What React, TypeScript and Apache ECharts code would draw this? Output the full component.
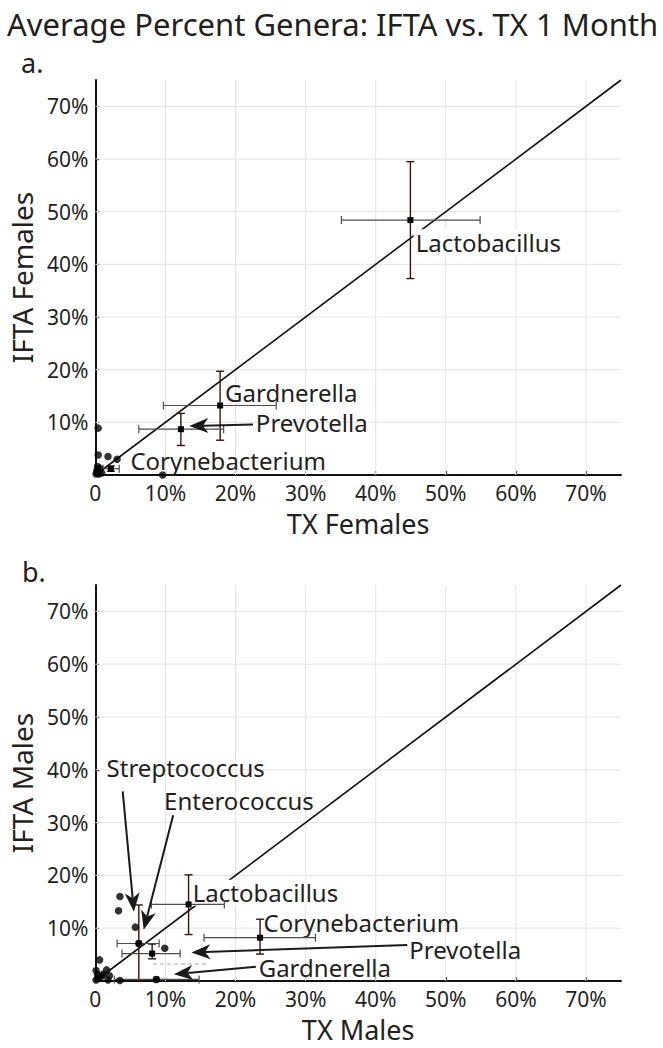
import React, { useEffect, useRef } from 'react';
import * as echarts from 'echarts';

const FONT = '"Noto Sans", "DejaVu Sans", sans-serif';
const AXIS_MAX = 75;
const TICK_STEP = 10;
const GRID_TICKS = [10, 20, 30, 40, 50, 60, 70];
const DIAGONAL = [[0, 0], [75, 75]];

// ---------- Panel a: females ----------
const FEMALE_DOTS = [
  [0.4, 8.9], [0.4, 3.8], [1.8, 3.5], [3.1, 3.0], [9.6, 0.0],
  [0.1, 0.2], [0.3, 0.5], [0.5, 0.2], [0.2, 0.8], [0.6, 1.3], [0.9, 0.4], [0.3, 1.6],
];
const FEMALE_GENERA = ['Lactobacillus', 'Gardnerella', 'Prevotella', 'Corynebacterium'];
const FEMALE_MEAN_X = [44.95, 17.8, 12.2, 2.2];
const FEMALE_MEAN_Y = [48.4, 13.2, 8.7, 1.2];
const FEMALE_X_LOW = [35.1, 9.7, 6.2, 1.1];
const FEMALE_X_HIGH = [54.9, 25.8, 18.3, 3.4];
const FEMALE_Y_LOW = [37.3, 6.6, 5.6, 0.7];
const FEMALE_Y_HIGH = [59.5, 19.7, 11.7, 1.7];
// label anchors (data coords, left-middle of text)
const FEMALE_LABEL_TEXT = ['Lactobacillus', 'Gardnerella', 'Prevotella', 'Corynebacterium'];
const FEMALE_LABEL_X = [45.7, 18.5, 22.9, 5.0];
const FEMALE_LABEL_Y = [44.2, 15.6, 9.9, 2.7];
const FEMALE_LABEL_BG = [true, false, false, false];
// arrows: from -> tip (data coords)
const FEMALE_ARROWS = [[22.5, 9.6, 13.4, 9.3]];

// ---------- Panel b: males ----------
const MALE_DOTS = [
  [3.5, 16.0], [3.3, 13.3], [5.7, 10.2], [9.9, 6.2], [0.6, 4.0], [3.5, 0.1], [8.7, 0.3], [6.2, 7.1],
  [0.1, 2.0], [0.4, 0.5], [0.9, 0.9], [1.6, 2.1], [1.1, 1.3], [1.8, 0.2], [0.1, 0.2], [2.0, 1.0], [0.3, 1.2],
];
const MALE_GENERA = ['Lactobacillus', 'Corynebacterium', 'Prevotella', 'Streptococcus', 'Gardnerella'];
const MALE_MEAN_X = [13.3, 23.5, 8.1, 6.2, 8.7];
const MALE_MEAN_Y = [14.5, 8.2, 5.2, 7.1, 0.3];
const MALE_X_LOW = [8.0, 15.5, 3.8, 3.1, 2.7];
const MALE_X_HIGH = [18.4, 31.4, 12.1, 9.1, 14.8];
const MALE_Y_LOW = [8.8, 5.1, 4.2, 0.0, 0.3];
const MALE_Y_HIGH = [20.1, 11.7, 7.0, 14.4, 0.3];
const MALE_FAINT_BARS = [[12.2, 3.2, 8.2, 16.2]];
const MALE_LABEL_TEXT = ['Streptococcus', 'Enterococcus', 'Lactobacillus', 'Corynebacterium', 'Prevotella', 'Gardnerella'];
const MALE_LABEL_X = [1.6, 9.8, 13.9, 24.0, 44.8, 23.3];
const MALE_LABEL_Y = [40.4, 34.1, 16.7, 11.0, 5.9, 2.5];
const MALE_LABEL_BG = [false, false, true, false, false, false];
const MALE_ARROWS = [
  [3.9, 35.9, 5.5, 13.1],
  [11.1, 31.4, 6.9, 9.7],
  [44.5, 6.8, 13.7, 5.4],
  [22.9, 2.7, 11.2, 1.3],
];

const H_BAR = '#4d4d4d';
const V_BAR = '#3a1212';
const INK = '#111';
const TEXT = '#231f20';

function errorBarItem(_p: any, api: any) {
  const x = api.value(0), y = api.value(1);
  const xl = api.value(2), xh = api.value(3), yl = api.value(4), yh = api.value(5);
  const c = api.coord([x, y]);
  const pl = api.coord([xl, y]);
  const ph = api.coord([xh, y]);
  const pb = api.coord([x, yl]);
  const pt = api.coord([x, yh]);
  const cap = 4;
  const children: any[] = [];
  if (xh > xl) {
    children.push(
      { type: 'line', shape: { x1: pl[0], y1: c[1], x2: ph[0], y2: c[1] }, style: { stroke: H_BAR, lineWidth: 1.2 } },
      { type: 'line', shape: { x1: pl[0], y1: c[1] - cap, x2: pl[0], y2: c[1] + cap }, style: { stroke: H_BAR, lineWidth: 1.2 } },
      { type: 'line', shape: { x1: ph[0], y1: c[1] - cap, x2: ph[0], y2: c[1] + cap }, style: { stroke: H_BAR, lineWidth: 1.2 } },
    );
  }
  if (yh > yl) {
    children.push(
      { type: 'line', shape: { x1: c[0], y1: pb[1], x2: c[0], y2: pt[1] }, style: { stroke: V_BAR, lineWidth: 1.4 } },
      { type: 'line', shape: { x1: c[0] - cap, y1: pt[1], x2: c[0] + cap, y2: pt[1] }, style: { stroke: V_BAR, lineWidth: 1.4 } },
      { type: 'line', shape: { x1: c[0] - cap, y1: pb[1], x2: c[0] + cap, y2: pb[1] }, style: { stroke: V_BAR, lineWidth: 1.4 } },
    );
  }
  children.push({ type: 'rect', shape: { x: c[0] - 3, y: c[1] - 3, width: 6, height: 6 }, style: { fill: '#000' } });
  return { type: 'group', children };
}

function faintBarItem(_p: any, api: any) {
  const y = api.value(1);
  const pl = api.coord([api.value(2), y]);
  const ph = api.coord([api.value(3), y]);
  return {
    type: 'line',
    shape: { x1: pl[0], y1: pl[1], x2: ph[0], y2: ph[1] },
    style: { stroke: '#b8b8b8', lineWidth: 1.2, lineDash: [4, 3] },
  };
}

function gridItem(_p: any, api: any) {
  const v = api.value(0);
  const a = api.coord([v, 0]);
  const b = api.coord([v, AXIS_MAX]);
  const c = api.coord([0, v]);
  const d = api.coord([AXIS_MAX, v]);
  const st = { stroke: '#e6e2e2', lineWidth: 1 };
  return {
    type: 'group',
    children: [
      { type: 'line', shape: { x1: a[0], y1: a[1], x2: b[0], y2: b[1] }, style: st },
      { type: 'line', shape: { x1: c[0], y1: c[1], x2: d[0], y2: d[1] }, style: st },
    ],
  };
}

function arrowItem(_p: any, api: any) {
  const p1 = api.coord([api.value(0), api.value(1)]);
  const p2 = api.coord([api.value(2), api.value(3)]);
  const dx = p2[0] - p1[0], dy = p2[1] - p1[1];
  const len = Math.sqrt(dx * dx + dy * dy) || 1;
  const ux = dx / len, uy = dy / len;
  const nx = -uy, ny = ux;
  const L = 19, W = 7.5;
  const bx = p2[0] - ux * L, by = p2[1] - uy * L;
  const kx = p2[0] - ux * L * 0.72, ky = p2[1] - uy * L * 0.72;
  return {
    type: 'group',
    children: [
      { type: 'line', shape: { x1: p1[0], y1: p1[1], x2: kx, y2: ky }, style: { stroke: '#1a1a1a', lineWidth: 2 } },
      {
        type: 'polygon',
        shape: { points: [[p2[0], p2[1]], [bx + nx * W, by + ny * W], [kx, ky], [bx - nx * W, by - ny * W]] },
        style: { fill: '#1a1a1a' },
      },
    ],
  };
}

function makeLabelItem(texts: string[], bgs: boolean[]) {
  return (_p: any, api: any) => {
    const idx = api.value(2);
    const p = api.coord([api.value(0), api.value(1)]);
    const bg = bgs[idx];
    return {
      type: 'text',
      x: bg ? p[0] - 2 : p[0],
      y: p[1],
      style: {
        text: texts[idx],
        fill: TEXT,
        fontSize: 24,
        lineHeight: 24,
        fontFamily: FONT,
        align: 'left',
        verticalAlign: 'middle',
        backgroundColor: bg ? '#fff' : 'transparent',
        padding: bg ? [2, 1, 0, 2] : 0,
      },
    };
  };
}

function xAxis(gridIndex: number, name: string) {
  return {
    type: 'value', gridIndex, min: 0, max: AXIS_MAX, interval: TICK_STEP,
    name, nameLocation: 'middle', nameGap: 35,
    nameTextStyle: { fontSize: 27, color: TEXT, fontFamily: FONT },
    axisLine: { show: true, onZero: false, lineStyle: { color: INK, width: 2 } },
    axisTick: { show: true, inside: true, length: 4, lineStyle: { color: INK, width: 1.2 } },
    axisLabel: {
      fontSize: 21, color: TEXT, fontFamily: FONT, margin: 7, showMaxLabel: false,
      formatter: (v: number) => (v === 0 ? '0' : v > 70 ? '' : v + '%'),
    },
    splitLine: { show: false },
  };
}

function yAxis(gridIndex: number, name: string) {
  return {
    type: 'value', gridIndex, min: 0, max: AXIS_MAX, interval: TICK_STEP,
    name, nameLocation: 'middle', nameGap: 50,
    nameTextStyle: { fontSize: 28, color: TEXT, fontFamily: FONT },
    axisLine: { show: true, onZero: false, lineStyle: { color: INK, width: 2 } },
    axisTick: { show: true, inside: true, length: 4, lineStyle: { color: INK, width: 1.2 } },
    axisLabel: {
      fontSize: 21, color: TEXT, fontFamily: FONT, margin: 7, showMaxLabel: false,
      formatter: (v: number) => (v === 0 || v > 70 ? '' : v + '%'),
    },
    splitLine: { show: false },
  };
}

function panelSeries(
  idx: number,
  dots: number[][],
  mx: number[], my: number[], xl: number[], xh: number[], yl: number[], yh: number[],
  labelText: string[], labelX: number[], labelY: number[], labelBg: boolean[],
  arrows: number[][],
  faint: number[][],
) {
  const base = { xAxisIndex: idx, yAxisIndex: idx, silent: true };
  return [
    { ...base, type: 'custom', z: 1, renderItem: gridItem, data: GRID_TICKS.map((v) => [v]), clip: false },
    {
      ...base, type: 'line', z: 2, data: DIAGONAL, showSymbol: false, symbol: 'none',
      lineStyle: { color: INK, width: 1.6 },
    },
    {
      ...base, type: 'custom', z: 3, renderItem: makeLabelItem(labelText, labelBg), clip: false,
      data: labelText.map((_t, i) => [labelX[i], labelY[i], i]),
    },
    { ...base, type: 'custom', z: 4, renderItem: faintBarItem, clip: false, data: faint },
    {
      ...base, type: 'custom', z: 4, renderItem: errorBarItem, clip: false,
      data: mx.map((x, i) => [x, my[i], xl[i], xh[i], yl[i], yh[i]]),
    },
    { ...base, type: 'custom', z: 5, renderItem: arrowItem, clip: false, data: arrows },
    {
      ...base, type: 'scatter', z: 6, data: dots, symbol: 'circle', symbolSize: 7.5,
      itemStyle: { color: '#000' },
    },
  ];
}

export default function App() {
  const ref = useRef<HTMLDivElement>(null);
  useEffect(() => {
    if (!ref.current) return;
    const chart = echarts.init(ref.current, undefined, { renderer: 'svg' });
    chart.setOption({
      animation: false,
      backgroundColor: '#fff',
      textStyle: { fontFamily: FONT },
      title: [
        {
          text: 'Average Percent Genera: IFTA vs. TX 1 Month', left: 2, top: 3,
          textStyle: { fontSize: 31, fontWeight: 'normal', color: TEXT, fontFamily: FONT },
        },
        { text: 'a.', left: 16, top: 44, textStyle: { fontSize: 27, fontWeight: 'normal', color: TEXT, fontFamily: FONT } },
        { text: 'b.', left: 17, top: 553, textStyle: { fontSize: 27, fontWeight: 'normal', color: TEXT, fontFamily: FONT } },
      ],
      grid: [
        { left: 94, top: 80, width: 527, height: 395 },
        { left: 94, top: 585, width: 527, height: 396 },
      ],
      xAxis: [xAxis(0, 'TX Females'), xAxis(1, 'TX Males')],
      yAxis: [yAxis(0, 'IFTA Females'), yAxis(1, 'IFTA Males')],
      series: [
        ...panelSeries(0, FEMALE_DOTS, FEMALE_MEAN_X, FEMALE_MEAN_Y, FEMALE_X_LOW, FEMALE_X_HIGH,
          FEMALE_Y_LOW, FEMALE_Y_HIGH, FEMALE_LABEL_TEXT, FEMALE_LABEL_X, FEMALE_LABEL_Y, FEMALE_LABEL_BG,
          FEMALE_ARROWS, []),
        ...panelSeries(1, MALE_DOTS, MALE_MEAN_X, MALE_MEAN_Y, MALE_X_LOW, MALE_X_HIGH,
          MALE_Y_LOW, MALE_Y_HIGH, MALE_LABEL_TEXT, MALE_LABEL_X, MALE_LABEL_Y, MALE_LABEL_BG,
          MALE_ARROWS, MALE_FAINT_BARS),
      ],
    });
    return () => chart.dispose();
  }, []);
  return (
    <div
      ref={ref}
      style={{ position: 'absolute', left: 0, top: 0, width: 663, height: 1048, background: '#fff' }}
    />
  );
}
